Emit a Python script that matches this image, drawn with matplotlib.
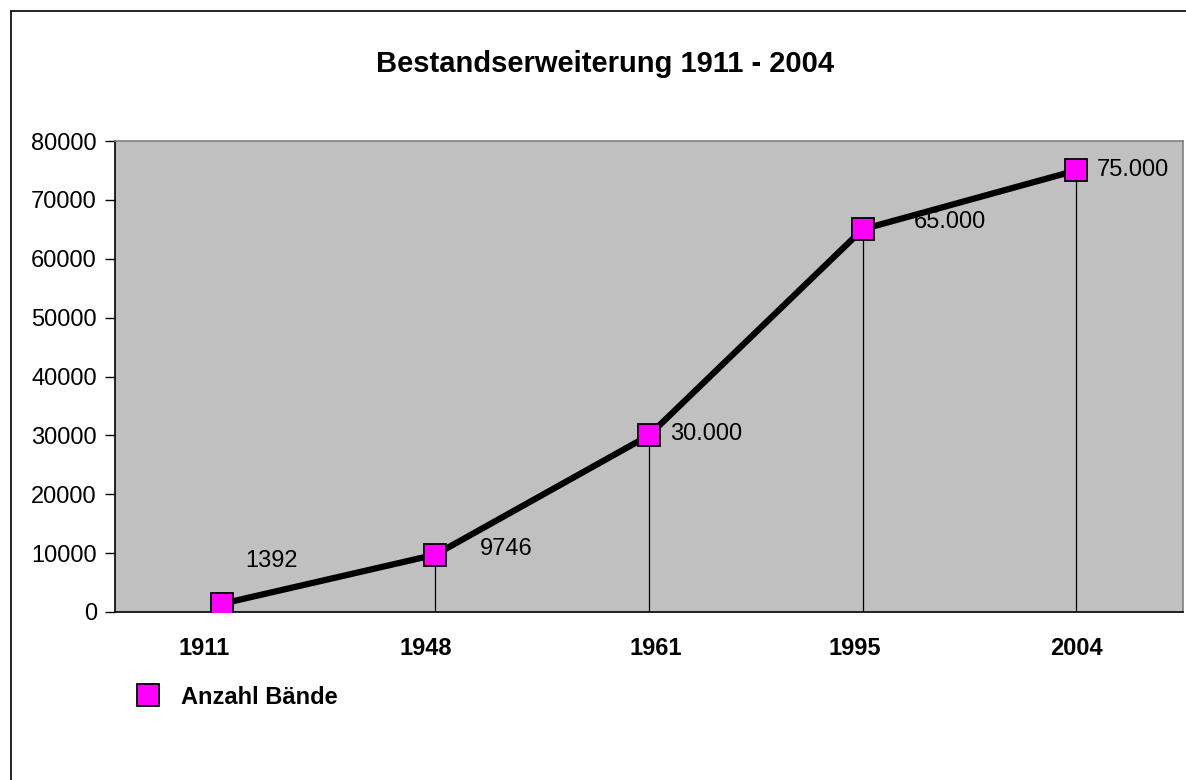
import matplotlib.pyplot as plt
from matplotlib.patches import Rectangle
from matplotlib.transforms import ScaledTranslation

years = ["1911", "1948", "1961", "1995", "2004"]
baende = [1392, 9746, 30000, 65000, 75000]
labels = ["1392", "9746", "30.000", "65.000", "75.000"]
# label offsets in points (dx, dy)
offsets = [(17, 31), (32, 4), (15, 1), (37, 5), (15, 0)]
# small horizontal shifts of the year labels (points), as in the original
year_shift = [-13, -7, 5, -6, 0]

plt.rcParams["font.family"] = ["Liberation Sans", "DejaVu Sans"]

fig = plt.figure(figsize=(11.86, 7.8), dpi=100)
fig.patches.append(Rectangle((11 / 1186, -0.01), 1.0, 1 - 11 / 780 + 0.01,
                             transform=fig.transFigure, fill=False,
                             edgecolor="black", linewidth=1.2))

ax = fig.add_axes([115 / 1186, 1 - 612 / 780, (1183 - 115) / 1186, (612 - 141) / 780])
ax.set_facecolor("#c0c0c0")

x = list(range(len(years)))
ax.vlines(x, 0, baende, colors="black", linewidth=0.9, zorder=2)
ax.plot(x, baende, color="black", linewidth=4.5, zorder=3)
ax.plot(x, baende, linestyle="none", marker="s", markersize=16,
        markerfacecolor="#ff00ff", markeredgecolor="black", markeredgewidth=1.3,
        zorder=4, label="Anzahl Bände")

for xi, v, t, (dx, dy) in zip(x, baende, labels, offsets):
    ax.annotate(t, (xi, v), xytext=(dx, dy), textcoords="offset points",
                ha="left", va="center", fontsize=17)

ax.set_xlim(-0.5, 4.5)
ax.set_ylim(0, 80000)
ax.set_yticks(range(0, 80001, 10000))
ax.set_xticks(x)
ax.set_xticklabels(years, fontsize=17, fontweight="bold")
ax.tick_params(axis="x", length=0, pad=18)
ax.tick_params(axis="y", direction="out", length=7, width=1, labelsize=17, pad=6)
for lab, s in zip(ax.get_xticklabels(), year_shift):
    lab.set_transform(lab.get_transform() + ScaledTranslation(s / 72, 0, fig.dpi_scale_trans))

ax.spines["left"].set_color("black")
ax.spines["bottom"].set_color("black")
ax.spines["top"].set_color("#808080")
ax.spines["right"].set_color("#808080")
for s in ax.spines.values():
    s.set_linewidth(1.2)

fig.text(605 / 1186, 1 - 64 / 780, "Bestandserweiterung 1911 - 2004",
         ha="center", va="center", fontsize=21, fontweight="bold")

fig.legend(loc="center left", bbox_to_anchor=(113 / 1186, 1 - 697 / 780),
           frameon=False, prop={"weight": "bold", "size": 17},
           handletextpad=0.8, handlelength=1.2)

fig.savefig("out.png", dpi=100)
